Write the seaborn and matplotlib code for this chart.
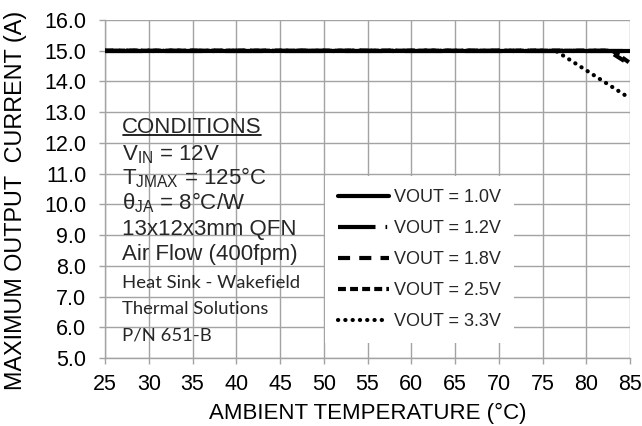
import numpy as np
import pandas as pd
import seaborn as sns
import matplotlib
matplotlib.use('Agg')
import matplotlib.pyplot as plt
from matplotlib.lines import Line2D
from matplotlib.transforms import IdentityTransform

# derating curves
temp_1v0 = [25, 85]
amps_1v0 = [15.0, 15.0]
temp_1v2 = [25, 85]
amps_1v2 = [15.0, 15.0]
temp_1v8 = [25, 82.5, 85]
amps_1v8 = [15.0, 15.0, 14.55]
temp_2v5 = [25, 83, 85]
amps_2v5 = [15.0, 15.0, 14.6]
temp_3v3 = [25, 76.5, 85]
amps_3v3 = [15.0, 15.0, 13.45]

labels = ['VOUT = 1.0V', 'VOUT = 1.2V', 'VOUT = 1.8V', 'VOUT = 2.5V', 'VOUT = 3.3V']
x_ticks = list(range(25, 90, 5))
y_ticks = [5.0, 6.0, 7.0, 8.0, 9.0, 10.0, 11.0, 12.0, 13.0, 14.0, 15.0, 16.0]

sns.set_theme(style='white')
plt.rcParams['font.family'] = ['Liberation Sans', 'DejaVu Sans']
plt.rcParams['mathtext.default'] = 'regular'

fig = plt.figure(figsize=(6.42, 4.26), dpi=100)
ax = fig.add_axes([105 / 642, 68 / 426, 525 / 642, 338 / 426])

series = [(temp_1v0, amps_1v0), (temp_1v2, amps_1v2), (temp_1v8, amps_1v8),
          (temp_2v5, amps_2v5), (temp_3v3, amps_3v3)]
styles = ['-', (0, (9.0, 2.4, 0.4, 2.6)), (0, (2.9, 2.2)), (0, (1.9, 1.0)), (0, (0.05, 1.7))]

for (t, a), lab, ls in zip(series, labels, styles):
    df = pd.DataFrame({'temp': t, 'amps': a})
    sns.lineplot(data=df, x='temp', y='amps', ax=ax, color='black', lw=3,
                 linestyle=ls, label=lab, dash_capstyle='round'
                 if ls == styles[-1] else 'butt', zorder=3)

ax.set_xlim(25, 85)
ax.set_ylim(5, 16)
ax.set_xticks(x_ticks)
ax.set_yticks(y_ticks)
ax.set_yticklabels(['%.1f' % v for v in y_ticks])
ax.grid(True, color='#a3a3a3', lw=1)
ax.set_axisbelow(True)
for s in ['top', 'right']:
    ax.spines[s].set_visible(False)
for s in ['left', 'bottom']:
    ax.spines[s].set_color('#a3a3a3')
    ax.spines[s].set_linewidth(1)
ax.tick_params(axis='both', direction='out', length=4.5, width=1, color='#a3a3a3',
               labelsize=15.5, labelcolor='black')
ax.tick_params(axis='x', pad=7, bottom=True)
ax.tick_params(axis='y', pad=9, left=True)

ax.set_xlabel('AMBIENT TEMPERATURE (°C)', fontsize=16, color='black', labelpad=6)
ax.set_ylabel('MAXIMUM OUTPUT  CURRENT (A)', fontsize=16.8, color='black')
ax.yaxis.set_label_coords(-0.149, 0.467)

leg = ax.legend(loc='upper left', bbox_to_anchor=(0.419, 0.538), fontsize=13,
                frameon=True, facecolor='white', edgecolor='none', framealpha=1,
                borderaxespad=0, borderpad=0.72, handlelength=2.8, handletextpad=0.3,
                labelspacing=0.78, fancybox=False)
leg.set_zorder(4)

# conditions block
big = [('CONDITIONS', 12.51), ('V$_{IN}$ = 12V', 11.62), ('T$_{JMAX}$ = 125°C', 10.87),
       ('θ$_{JA}$ = 8°C/W', 10.06), ('13x12x3mm QFN', 9.18), ('Air Flow (400fpm)', 8.36)]
small = [('Heat Sink - Wakefield', 7.43), ('Thermal Solutions', 6.59), ('P/N 651-B', 5.74)]
txts = []
for s, y in big:
    txts.append(ax.text(26.95, y, s, fontsize=16, va='center', ha='left', zorder=5))
for s, y in small:
    ax.text(26.95, y, s, fontsize=13.3, va='center', ha='left', zorder=5,
            family=['Lato', 'DejaVu Sans'])

fig.text(0.953, 1.0 + 7 / 426, '(Amps)', fontsize=24, fontweight='bold',
         ha='right', va='baseline')

fig.canvas.draw()
bb = txts[0].get_window_extent()
fig.add_artist(Line2D([bb.x0 + 1, bb.x1 - 1], [bb.y0 + 3, bb.y0 + 3], color='black',
                      lw=1.2, transform=IdentityTransform()))

plt.savefig('out.png', dpi=100)
